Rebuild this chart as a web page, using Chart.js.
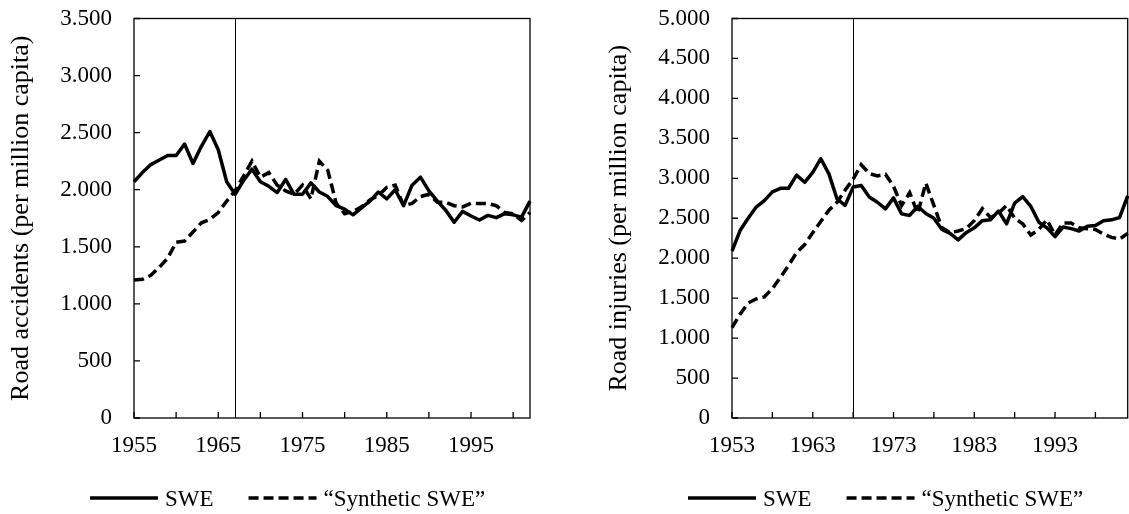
<!DOCTYPE html>
<html>
<head>
<meta charset="utf-8">
<script src="https://cdn.jsdelivr.net/npm/chart.js@4.4.0/dist/chart.umd.min.js"></script>
<style>
  html, body { margin: 0; padding: 0; background: #fff; }
  body { width: 1129px; height: 514px; position: relative; overflow: hidden; }
  .panel { position: absolute; top: 0; }
</style>
</head>
<body>
<div class="panel" style="left:0"><canvas id="accidentsChart" width="598" height="514"></canvas></div>
<div class="panel" style="left:598px"><canvas id="injuriesChart" width="531" height="514"></canvas></div>
<script>
// Road accidents per million capita, SWE vs synthetic control
const accYears = [1955, 1956, 1957, 1958, 1959, 1960, 1961, 1962, 1963, 1964,
  1965, 1966, 1967, 1968, 1969, 1970, 1971, 1972, 1973, 1974,
  1975, 1976, 1977, 1978, 1979, 1980, 1981, 1982, 1983, 1984,
  1985, 1986, 1987, 1988, 1989, 1990, 1991, 1992, 1993, 1994,
  1995, 1996, 1997, 1998, 1999, 2000, 2001, 2002];
const accSwe = [2070, 2150, 2220, 2260, 2300, 2300, 2400, 2230, 2380, 2510,
  2350, 2070, 1960, 2080, 2180, 2070, 2030, 1975, 2090, 1960,
  1960, 2060, 1980, 1940, 1860, 1830, 1780, 1840, 1900, 1980,
  1920, 2000, 1860, 2040, 2110, 1990, 1900, 1820, 1715, 1810,
  1770, 1735, 1775, 1755, 1790, 1780, 1760, 1900];
const accSynthetic = [1210, 1215, 1250, 1320, 1400, 1540, 1550, 1630, 1710, 1740,
  1800, 1900, 1990, 2120, 2250, 2110, 2150, 2040, 1990, 1960,
  2040, 1920, 2250, 2170, 1880, 1790, 1810, 1850, 1910, 1950,
  2020, 2040, 1860, 1880, 1940, 1960, 1890, 1890, 1860, 1850,
  1880, 1880, 1880, 1860, 1800, 1790, 1730, 1800];
const accLabelYears = [1955, 1965, 1975, 1985, 1995];
const accTreatYear = 1967;

// Road injuries per million capita
const injYears = [1953, 1954, 1955, 1956, 1957, 1958, 1959, 1960, 1961, 1962,
  1963, 1964, 1965, 1966, 1967, 1968, 1969, 1970, 1971, 1972,
  1973, 1974, 1975, 1976, 1977, 1978, 1979, 1980, 1981, 1982,
  1983, 1984, 1985, 1986, 1987, 1988, 1989, 1990, 1991, 1992,
  1993, 1994, 1995, 1996, 1997, 1998, 1999, 2000, 2001, 2002];
const injSwe = [2090, 2346, 2500, 2640, 2720, 2830, 2875, 2875, 3040, 2950,
  3075, 3245, 3055, 2745, 2660, 2890, 2910, 2765, 2700, 2617,
  2755, 2555, 2535, 2650, 2560, 2500, 2360, 2310, 2230, 2320,
  2380, 2470, 2480, 2590, 2430, 2690, 2770, 2650, 2450, 2380,
  2270, 2390, 2370, 2340, 2400, 2410, 2470, 2480, 2510, 2780];
const injSynthetic = [1130, 1300, 1440, 1490, 1515, 1620, 1760, 1910, 2070, 2170,
  2320, 2460, 2600, 2700, 2850, 2990, 3170, 3060, 3030, 3050,
  2900, 2660, 2820, 2560, 2940, 2660, 2380, 2320, 2340, 2370,
  2470, 2620, 2510, 2560, 2660, 2500, 2430, 2290, 2360, 2480,
  2290, 2440, 2440, 2380, 2370, 2360, 2300, 2260, 2240, 2310];
const injLabelYears = [1953, 1963, 1973, 1983, 1993];
const injTreatYear = 1968;

const seriesNames = ['SWE', '\u201cSynthetic SWE\u201d'];

const FONT = '"Liberation Serif", "Times New Roman", serif';
const FONT_SIZE = 23;
const TITLE_SIZE = 26;

// 3500 -> "3.500"
function fmtThousands(v) {
  if (v < 1000) return String(v);
  return Math.floor(v / 1000) + '.' + String(v % 1000).padStart(3, '0');
}

// plot box, inward tick marks and the vertical line at the treatment year
const frame = {
  id: 'frame',
  beforeDatasetsDraw(chart, args, opts) {
    const { ctx, chartArea: a, scales: { x, y } } = chart;
    ctx.save();
    ctx.strokeStyle = '#000';
    ctx.lineWidth = 1.3;
    ctx.strokeRect(a.left, a.top, a.right - a.left, a.bottom - a.top);
    ctx.beginPath();
    y.ticks.forEach(t => {
      const py = y.getPixelForValue(t.value);
      ctx.moveTo(a.left, py);
      ctx.lineTo(a.left + 6, py);
    });
    x.ticks.forEach((t, i) => {
      if (i % 5 !== 0) return;
      const px = x.getPixelForValue(t.value);
      ctx.moveTo(px, a.bottom);
      ctx.lineTo(px, a.bottom - 6);
    });
    ctx.stroke();
    const tx = Math.round(x.getPixelForValue(opts.treatIndex)) + 0.5;
    ctx.lineWidth = 1;
    ctx.beginPath();
    ctx.moveTo(tx, a.top);
    ctx.lineTo(tx, a.bottom);
    ctx.stroke();
    ctx.restore();
  }
};

// legend row with line samples, drawn from the dataset styles
const lineLegend = {
  id: 'lineLegend',
  afterDraw(chart) {
    const { ctx } = chart;
    const lineY = 498, textY = 506, sample = 68;
    let cx = 90;
    ctx.save();
    ctx.font = FONT_SIZE + 'px ' + FONT;
    ctx.fillStyle = '#000';
    ctx.textBaseline = 'alphabetic';
    chart.data.datasets.forEach(ds => {
      ctx.setLineDash(ds.borderDash || []);
      ctx.lineWidth = ds.borderWidth;
      ctx.strokeStyle = ds.borderColor;
      ctx.beginPath();
      ctx.moveTo(cx, lineY);
      ctx.lineTo(cx + sample, lineY);
      ctx.stroke();
      cx += sample + 7;
      ctx.fillText(ds.label, cx, textY);
      cx += ctx.measureText(ds.label).width + 35;
    });
    ctx.restore();
  }
};

function makeChart(id, years, swe, synth, labelYears, yMax, yTitle, treatYear, padRight) {
  return new Chart(document.getElementById(id), {
    type: 'line',
    data: {
      labels: years,
      datasets: [
        { label: seriesNames[0], data: swe, borderColor: '#000', borderWidth: 3.5,
          pointRadius: 0, tension: 0, borderJoinStyle: 'round' },
        { label: seriesNames[1], data: synth, borderColor: '#000', borderWidth: 3.5,
          borderDash: [10, 5], pointRadius: 0, tension: 0 }
      ]
    },
    options: {
      responsive: false,
      animation: false,
      events: [],
      layout: { padding: { left: 0, right: padRight, top: 18.5, bottom: 0 } },
      plugins: {
        legend: { display: false },
        tooltip: { enabled: false },
        frame: { treatIndex: years.indexOf(treatYear) }
      },
      scales: {
        x: {
          type: 'category',
          offset: false,
          grid: { display: false, drawTicks: false },
          border: { display: false },
          ticks: {
            autoSkip: false, maxRotation: 0, padding: 14,
            color: '#000', font: { family: FONT, size: FONT_SIZE },
            callback(v, i) {
              return labelYears.includes(years[i]) ? String(years[i]) : '';
            }
          },
          afterFit(s) {
            s.height = 96;
            s.paddingLeft = 0;
            s.paddingRight = 0;
          }
        },
        y: {
          min: 0, max: yMax,
          grid: { display: false, drawTicks: false },
          border: { display: false },
          ticks: {
            stepSize: 500, padding: 22,
            color: '#000', font: { family: FONT, size: FONT_SIZE },
            callback: v => fmtThousands(v)
          },
          title: {
            display: true, text: yTitle, color: '#000',
            font: { family: FONT, size: TITLE_SIZE },
            padding: { top: 6, bottom: 0 }
          },
          afterFit(s) {
            s.width = 134;
            s.paddingTop = 0;
            s.paddingBottom = 0;
          }
        }
      }
    },
    plugins: [frame, lineLegend]
  });
}

makeChart('accidentsChart', accYears, accSwe, accSynthetic, accLabelYears, 3500,
  'Road accidents (per million capita)', accTreatYear, 68);
makeChart('injuriesChart', injYears, injSwe, injSynthetic, injLabelYears, 5000,
  'Road injuries (per million capita)', injTreatYear, 1.3);
</script>
</body>
</html>
